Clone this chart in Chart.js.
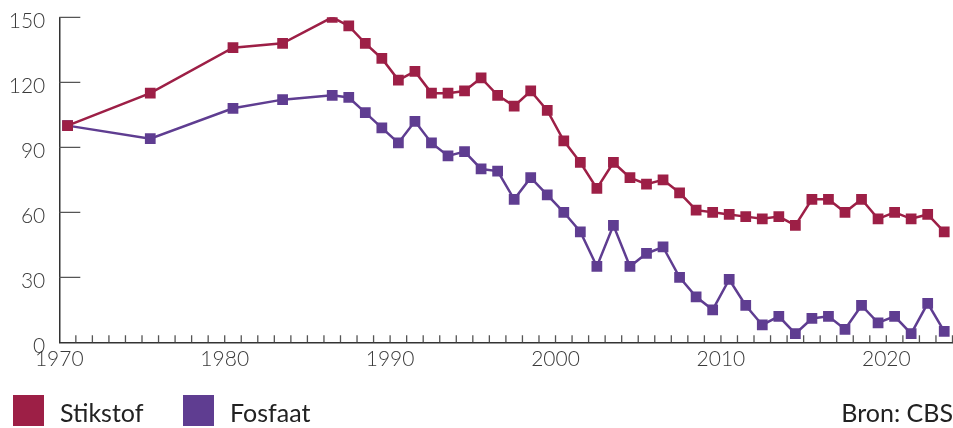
<!DOCTYPE html>
<html>
<head>
<meta charset="utf-8">
<script src="https://cdn.jsdelivr.net/npm/chart.js@4"></script>
<style>
  html, body { margin: 0; padding: 0; background: #fff; }
  #wrap { position: relative; width: 953px; height: 428px; font-family: Lato, "Open Sans", sans-serif; }
  #legend { position: absolute; left: 0; top: 395px; width: 953px; height: 31px; }
  .item { position: absolute; top: 0; height: 31px; }
  .box { position: absolute; left: 0; top: 0; width: 31px; height: 31px; }
  .lbl { position: absolute; top: 2px; font-size: 25px; line-height: 31px; color: #222; white-space: nowrap; }
  #source { position: absolute; right: 0; top: 397px; font-size: 25px; line-height: 31px; color: #222; }
</style>
</head>
<body>
<div id="wrap">
  <canvas id="nutrientChart"></canvas>
  <div id="legend">
    <div class="item" style="left:13px"><div class="box" style="background:#9d1f46"></div><span class="lbl" style="left:47px">Stikstof</span></div>
    <div class="item" style="left:183px"><div class="box" style="background:#5f3d91"></div><span class="lbl" style="left:47px">Fosfaat</span></div>
  </div>
  <div id="source">Bron: CBS</div>
</div>
<script>
// Stikstof- en fosfaatoverschot (index 1970 = 100)
const years = [1970, 1975, 1980, 1983, 1986, 1987, 1988, 1989, 1990, 1991, 1992, 1993, 1994, 1995,
  1996, 1997, 1998, 1999, 2000, 2001, 2002, 2003, 2004, 2005, 2006, 2007, 2008, 2009, 2010, 2011,
  2012, 2013, 2014, 2015, 2016, 2017, 2018, 2019, 2020, 2021, 2022, 2023];
const stikstof = [100, 115, 136, 138, 150, 146, 138, 131, 121, 125, 115, 115, 116, 122,
  114, 109, 116, 107, 93, 83, 71, 83, 76, 73, 75, 69, 61, 60, 59, 58,
  57, 58, 54, 66, 66, 60, 66, 57, 60, 57, 59, 51];
const fosfaat = [100, 94, 108, 112, 114, 113, 106, 99, 92, 102, 92, 86, 88, 80,
  79, 66, 76, 68, 60, 51, 35, 54, 35, 41, 44, 30, 21, 15, 29, 17,
  8, 12, 4, 11, 12, 6, 17, 9, 12, 4, 18, 5];
const yTicks = [0, 30, 60, 90, 120, 150];

const red = '#9d1f46';
const purple = '#5f3d91';
const textCol = '#3a3a3a';
const font = { family: 'Lato, "Open Sans", sans-serif', size: 21, weight: 300 };

// each year sits in the middle of its tick interval
const toPoints = vals => vals.map((v, i) => ({ x: years[i] + 0.5, y: v }));

// small tick marks pointing into the plot
const innerTicks = {
  id: 'innerTicks',
  beforeDatasetsDraw(chart) {
    const { ctx, scales: { x, y } } = chart;
    ctx.save();
    ctx.strokeStyle = '#555';
    ctx.lineWidth = 1.3;
    ctx.beginPath();
    for (let yr = x.min + 1; yr <= x.max; yr++) {
      const px = x.getPixelForValue(yr);
      ctx.moveTo(px, y.bottom);
      ctx.lineTo(px, y.bottom - 7);
    }
    yTicks.filter(t => t > 0).forEach(t => {
      const py = y.getPixelForValue(t);
      ctx.moveTo(x.left, py);
      ctx.lineTo(x.left + 21, py);
    });
    ctx.stroke();
    ctx.restore();
  }
};

const ctx = document.getElementById('nutrientChart').getContext('2d');
new Chart(ctx, {
  type: 'line',
  data: {
    datasets: [
      { label: 'Stikstof', data: toPoints(stikstof), borderColor: red, backgroundColor: red,
        borderWidth: 2.5, pointStyle: 'rect', pointRadius: 7.6, pointHoverRadius: 7.6, pointBorderWidth: 0, tension: 0 },
      { label: 'Fosfaat', data: toPoints(fosfaat), borderColor: purple, backgroundColor: purple,
        borderWidth: 2.5, pointStyle: 'rect', pointRadius: 7.6, pointHoverRadius: 7.6, pointBorderWidth: 0, tension: 0 }
    ]
  },
  options: {
    responsive: true,
    maintainAspectRatio: false,
    animation: false,
    layout: { autoPadding: false, padding: { top: 17.3, right: 0.5, left: 0, bottom: 0 } },
    plugins: { legend: { display: false }, tooltip: { enabled: false } },
    scales: {
      x: {
        type: 'linear',
        min: 1970,
        max: 2024,
        afterFit: s => { s.height = 85.7; s.paddingLeft = 0; s.paddingRight = 0; },
        grid: { display: false, drawTicks: false },
        border: { display: true, color: '#333', width: 1.5 },
        ticks: {
          stepSize: 1,
          autoSkip: false,
          maxRotation: 0,
          padding: 4,
          color: textCol,
          font: font,
          callback: v => (v % 10 === 0 ? String(v) : '')
        }
      },
      y: {
        min: 0,
        max: 150,
        afterFit: s => { s.width = 59.3; s.paddingTop = 0; s.paddingBottom = 0; },
        afterBuildTicks: s => { s.ticks = yTicks.map(v => ({ value: v })); },
        grid: { display: false, drawTicks: false },
        border: { display: true, color: '#333', width: 1.5 },
        ticks: { padding: 14, labelOffset: 4, color: textCol, font: font }
      }
    }
  },
  plugins: [innerTicks]
});
</script>
</body>
</html>
